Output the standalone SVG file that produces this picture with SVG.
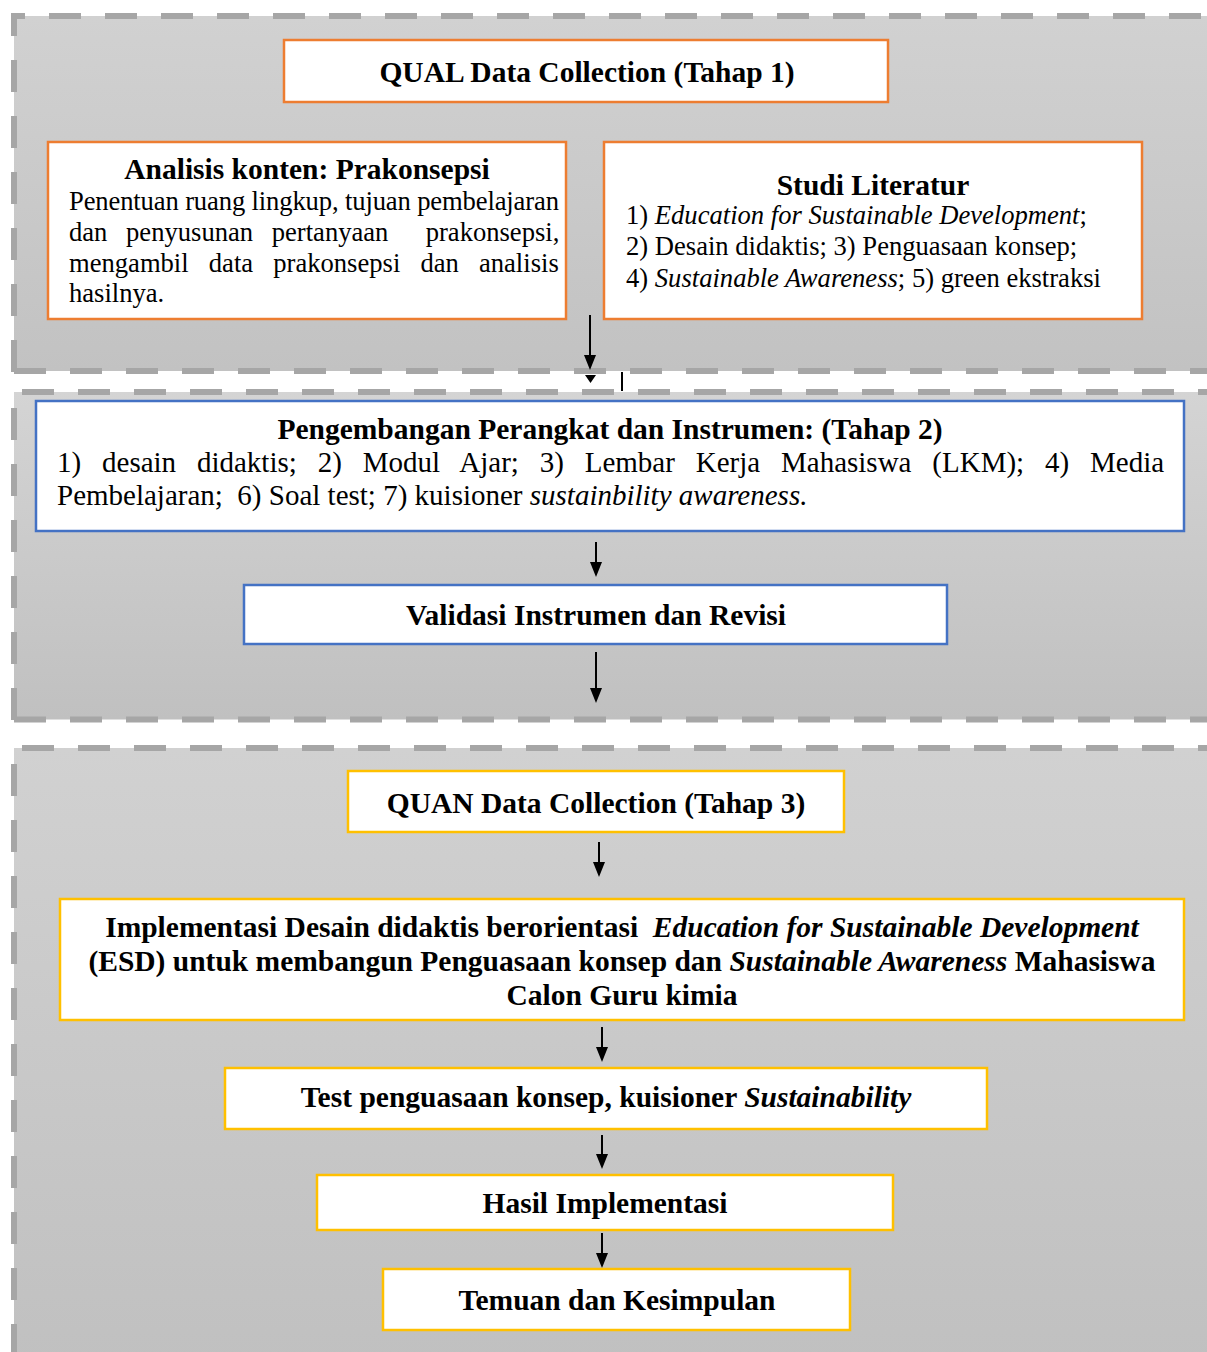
<svg xmlns="http://www.w3.org/2000/svg" width="1207" height="1352" viewBox="0 0 1207 1352">
<style>
.dash{fill:none;stroke:#a6a6a6;stroke-width:6;stroke-dasharray:32 24}
.box{fill:#ffffff;stroke-width:2.5}
.o{stroke:#ed7d31}
.bl{stroke:#4472c4}
.y{stroke:#ffc000}
.t{font-family:"Liberation Serif","Times New Roman",serif;fill:#000}
.h{font-size:29.5px;font-weight:bold;text-anchor:middle}
.p{font-size:26.6px}
.p2{font-size:29px}
.c{stroke:#000;stroke-width:2;fill:none;marker-end:url(#ah)}
</style>
<defs>
<linearGradient id="g1" x1="0" y1="0" x2="0" y2="1"><stop offset="0" stop-color="#d1d1d1"/><stop offset="1" stop-color="#c2c2c2"/></linearGradient>
<linearGradient id="g2" x1="0" y1="0" x2="0" y2="1"><stop offset="0" stop-color="#d4d4d4"/><stop offset="1" stop-color="#c0c0c0"/></linearGradient>
<linearGradient id="g3" x1="0" y1="0" x2="0" y2="1"><stop offset="0" stop-color="#d1d1d1"/><stop offset="1" stop-color="#c0c0c0"/></linearGradient>
<marker id="ah" viewBox="0 0 15 12" refX="11" refY="6" markerWidth="15" markerHeight="12" markerUnits="userSpaceOnUse" orient="auto"><path d="M0,0 L15,6 L0,12 z" fill="#000"/></marker>
</defs>
<rect width="1207" height="1352" fill="#ffffff"/>

<g id="panel1">
<rect x="14" y="16" width="1210" height="355" fill="url(#g1)"/>
<line class="dash" x1="11" y1="16" x2="1220" y2="16" stroke-dashoffset="18"/>
<line class="dash" x1="14" y1="13" x2="14" y2="374" stroke-dashoffset="9"/>
<line class="dash" x1="11" y1="371" x2="1220" y2="371" stroke-dashoffset="53"/>
</g>
<g id="panel2">
<rect x="14" y="392" width="1210" height="327.5" fill="url(#g2)"/>
<line class="dash" x1="11" y1="392" x2="1220" y2="392" stroke-dashoffset="45"/>
<line class="dash" x1="14" y1="389" x2="14" y2="722.5" stroke-dashoffset="37"/>
<line class="dash" x1="11" y1="719.5" x2="1220" y2="719.5" stroke-dashoffset="53"/>
</g>
<g id="panel3">
<rect x="14" y="748" width="1210" height="620" fill="url(#g3)"/>
<line class="dash" x1="11" y1="748" x2="1220" y2="748" stroke-dashoffset="45"/>
<line class="dash" x1="14" y1="745" x2="14" y2="1360" stroke-dashoffset="37"/>
</g>

<g id="connectors">
<line class="c" x1="590" y1="315" x2="590" y2="366"/>
<polygon points="585,375 596,375 590.5,383" fill="#000"/>
<line x1="622" y1="372" x2="622" y2="391" stroke="#000" stroke-width="2"/>
<line class="c" x1="596" y1="542" x2="596" y2="573"/>
<line class="c" x1="596" y1="652" x2="596" y2="699"/>
<line class="c" x1="599" y1="842" x2="599" y2="873"/>
<line class="c" x1="602" y1="1027" x2="602" y2="1058"/>
<line class="c" x1="602" y1="1135" x2="602" y2="1165"/>
<line class="c" x1="602" y1="1233" x2="602" y2="1264"/>
</g>

<g id="qual">
<rect class="box o" x="284" y="40" width="604" height="62"/>
<text class="t h" x="587" y="82">QUAL Data Collection (Tahap 1)</text>
</g>

<g id="analisis">
<rect class="box o" x="48" y="142" width="518" height="177"/>
<text class="t h" x="307" y="179">Analisis konten: Prakonsepsi</text>
<text class="t p" x="69" y="210" textLength="490" lengthAdjust="spacing">Penentuan ruang lingkup, tujuan pembelajaran</text>
<text class="t p" x="69" y="241" word-spacing="12" xml:space="preserve">dan penyusunan pertanyaan  prakonsepsi,</text>
<text class="t p" x="69" y="272" word-spacing="13.5">mengambil data prakonsepsi dan analisis</text>
<text class="t p" x="69" y="302">hasilnya.</text>
</g>

<g id="studi">
<rect class="box o" x="604" y="142" width="538" height="177"/>
<text class="t h" x="873" y="195">Studi Literatur</text>
<text class="t p" x="626" y="224">1) <tspan font-style="italic">Education for Sustainable Development</tspan>;</text>
<text class="t p" x="626" y="255">2) Desain didaktis; 3) Penguasaan konsep;</text>
<text class="t p" x="626" y="287">4) <tspan font-style="italic">Sustainable Awareness</tspan>; 5) green ekstraksi</text>
</g>

<g id="pengembangan">
<rect class="box bl" x="36" y="401" width="1148" height="130"/>
<text class="t h" x="610" y="439">Pengembangan Perangkat dan Instrumen: (Tahap 2)</text>
<text class="t p2" x="57" y="472" word-spacing="13.6">1) desain didaktis; 2) Modul Ajar; 3) Lembar Kerja Mahasiswa (LKM); 4) Media</text>
<text class="t p2" x="57" y="505" xml:space="preserve">Pembelajaran;  6) Soal test; 7) kuisioner <tspan font-style="italic">sustainbility awareness.</tspan></text>
</g>

<g id="validasi">
<rect class="box bl" x="244" y="585" width="703" height="59"/>
<text class="t h" x="596" y="625">Validasi Instrumen dan Revisi</text>
</g>

<g id="quan">
<rect class="box y" x="348" y="771" width="496" height="61"/>
<text class="t h" x="596" y="813">QUAN Data Collection (Tahap 3)</text>
</g>

<g id="implementasi">
<rect class="box y" x="60" y="899" width="1124" height="121"/>
<text class="t h" x="622" y="937" xml:space="preserve">Implementasi Desain didaktis berorientasi  <tspan font-style="italic">Education for Sustainable Development</tspan></text>
<text class="t h" x="622" y="971">(ESD) untuk membangun Penguasaan konsep dan <tspan font-style="italic">Sustainable Awareness</tspan> Mahasiswa</text>
<text class="t h" x="622" y="1005">Calon Guru kimia</text>
</g>

<g id="test">
<rect class="box y" x="225" y="1068" width="762" height="61"/>
<text class="t h" x="606" y="1107">Test penguasaan konsep, kuisioner <tspan font-style="italic">Sustainability</tspan></text>
</g>

<g id="hasil">
<rect class="box y" x="317" y="1175" width="576" height="55"/>
<text class="t h" x="605" y="1213">Hasil Implementasi</text>
</g>

<g id="temuan">
<rect class="box y" x="383" y="1269" width="467" height="61"/>
<text class="t h" x="617" y="1310">Temuan dan Kesimpulan</text>
</g>
</svg>
